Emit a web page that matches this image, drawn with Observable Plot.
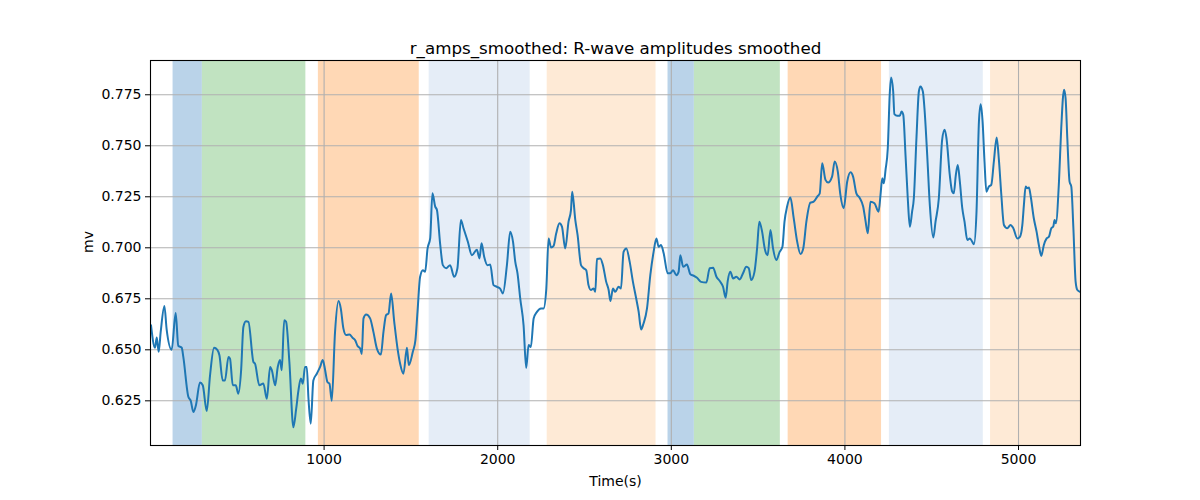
<!DOCTYPE html>
<html>
<head>
<meta charset="utf-8">
<script src="https://cdn.jsdelivr.net/npm/d3@7"></script>
<script src="https://cdn.jsdelivr.net/npm/@observablehq/plot@0.6"></script>
<style>
  html, body { margin: 0; padding: 0; background: white; }
</style>
</head>
<body>
<div id="chart"></div>
<script>
const titleText = "r_amps_smoothed: R-wave amplitudes smoothed";
const xLabel = "Time(s)";
const yLabel = "mv";
const xTicks = [1000, 2000, 3000, 4000, 5000];
const yTicks = [0.625, 0.650, 0.675, 0.700, 0.725, 0.750, 0.775];

const bandStart = [130, 299, 967, 1605, 2285, 2981, 3133, 3673, 4256, 4839];
const bandEnd   = [299, 895, 1548, 2187, 2912, 3133, 3628, 4211, 4797, 5357];
const bandColor = ["#bad3e9", "#c1e3c1", "#ffd8b5", "#e5edf7", "#feead6",
                   "#bad3e9", "#c1e3c1", "#ffd8b5", "#e5edf7", "#feead6"];

const times = [3,26,36,47,59,80,93,122,145,160,180,189,218,232,247,262,285,301,324,343,366,385,397,416,429,449,458,474,491,506,522,535,550,564,593,602,627,650,670,689,699,718,733,746,756,770,781,800,823,839,852,866,877,890,900,910,923,938,958,
977,992,1006,1019,1031,1044,1063,1083,1096,1111,1127,1146,1165,1179,1192,1208,1217,1227,1242,1265,1284,1304,1327,1342,1357,1371,1386,1404,1423,1438,1457,1477,1488,1511,1526,1538,1553,1569,1582,1596,1611,1624,1640,1650,1669,1684,1703,1726,1749,1768,1788,1803,1828,1851,1880,1895,1907,1922,1941,1957,1976,1995,2014,2030,
2053,2072,2088,2101,2114,2130,2149,2164,2178,2191,2207,2226,2249,2264,2280,2293,2307,2322,2337,2356,2370,2389,2408,2422,2429,2447,2460,2480,2495,2510,2523,2537,2552,2562,2572,2591,2606,2625,2639,2649,2664,2677,2696,2710,2725,2741,2760,2779,2798,2812,2826,2840,2860,2879,2898,2914,2927,2941,2956,2979,2994,3010,3029,3042,
3052,3068,3090,3110,3129,3148,3171,3202,3221,3241,3260,3279,3298,3313,3325,3340,3356,3375,3394,3413,3432,3446,3460,3479,3494,3507,3523,3538,3555,3571,3586,3605,3624,3640,3652,3667,3686,3705,3725,3744,3760,3778,3801,3820,3840,3855,3869,3888,3903,3926,3941,3959,3974,3993,4013,4032,4047,4066,4086,4105,4118,4132,
4147,4170,4194,4205,4215,4224,4234,4247,4258,4266,4278,4285,4301,4316,4326,4336,4349,4362,4374,4387,4397,4412,4426,4435,4449,4458,4474,4489,4509,4522,4541,4560,4574,4585,4604,4618,4627,4639,4650,4662,4676,4689,4705,4720,4733,4743,4758,4772,4782,4793,4804,4815,4829,4843,4858,4874,4887,4901,4916,4935,4954,4970,4993,5008,5022,5031,5041,5050,5060,5069,5088,5104,5117,5131,5146,5162,5175,5189,5200,5208,5215,5233,5246,5262,5271,5281,5294,5304,5316,5329,5339,5354];

const amps = [.662,.651,.656,.649,.659,.6715,.660,.650,.668,.652,.651,.6465,.627,.625,.6195,.623,.634,.6326,.620,.6375,.651,.650,.6473,.635,.635,.6465,.6457,.6326,.6326,.6285,.640,.6612,.664,.6637,.644,.6432,.6326,.6335,.626,.6416,.640,.6326,.6416,.645,.640,.6645,.6637,.644,.612,.621,.630,.636,.6334,.6416,.6416,.626,.6138,.635,.6383,
.6416,.645,.640,.6342,.6334,.625,.6588,.6739,.6703,.6605,.6572,.6575,.6558,.6547,.652,.6506,.648,.6654,.6673,.6654,.6588,.6506,.6477,.6588,.667,.6678,.6776,.6637,.6506,.6432,.6383,.651,.6425,.649,.6547,.6686,.6858,.689,.6882,.6997,.7046,.7267,.7202,.7185,.7014,.6915,.690,.6915,.6858,.690,.7136,.7096,.703,.6964,.699,.6948,.7022,.6956,.6915,.6918,.6817,.6809,.680,.6776,
.6915,.7079,.703,.6932,.6875,.675,.662,.6411,.6523,.6514,.6654,.6686,.6703,.6703,.680,.7046,.7002,.701,.7071,.712,.7104,.6997,.7128,.7185,.7275,.7136,.7063,.6915,.690,.689,.6817,.6793,.680,.6784,.6945,.6948,.6915,.6833,.6793,.6739,.680,.6784,.6809,.680,.698,.6997,.6932,.6833,.675,.6686,.660,.6629,.6703,.6866,.698,.7046,.7005,.7014,.6973,.6875,.6875,.689,.6866,.6882,
.6964,.6907,.6918,.687,.6863,.6853,.6833,.683,.690,.6902,.6858,.6837,.6809,.6755,.6838,.6882,.685,.6858,.6845,.6875,.6907,.690,.6842,.6882,.6997,.7128,.7079,.6997,.6964,.7087,.6997,.694,.698,.7005,.7128,.7202,.7246,.7145,.703,.697,.6997,.7128,.7221,.7226,.725,.7267,.7415,.7333,.732,.7349,.7423,.7373,.7259,.7194,.7324,.737,.7349,.7267,.7243,.7202,.7136,.7071,
.7226,.7218,.7177,.7259,.7341,.7316,.7382,.7488,.775,.7835,.7766,.7655,.7647,.7647,.7668,.7652,.7455,.7243,.7103,.7177,.7243,.7537,.7766,.7791,.7766,.7685,.7455,.721,.705,.7128,.7243,.7529,.7578,.7537,.7357,.7275,.7267,.7357,.7406,.7324,.7194,.7128,.7038,.7046,.703,.7017,.7177,.7619,.7704,.7619,.7423,.7275,.730,.7308,.7423,.754,.7431,.7259,.7112,.7096,.7112,.7096,.7046,.7054,.7112,.721,.730,.7292,.7295,.7259,.7145,.7079,.7014,.696,.7014,.7046,.7054,.7096,.7104,.7136,.712,.7324,.7586,.7775,.7734,.7537,.7324,.730,.7096,.6833,.6793,.6784];

const series = times.map((t, i) => ({t, v: amps[i]}));
const bands = bandStart.map((s, i) => ({s, e: bandEnd[i], c: bandColor[i]}));

const chart = Plot.plot({
  width: 1200,
  height: 500,
  marginLeft: 150,
  marginRight: 120,
  marginTop: 60,
  marginBottom: 55,
  style: {fontFamily: "DejaVu Sans", fontSize: "14px", background: "white", color: "black"},
  x: {domain: [0, 5357]},
  y: {domain: [0.6031, 0.7918]},
  marks: [
    Plot.rect(bands, {x1: "s", x2: "e", fill: "c"}),
    Plot.gridX(xTicks, {stroke: "#b0b0b0", strokeOpacity: 1, strokeWidth: 1.1}),
    Plot.gridY(yTicks, {stroke: "#b0b0b0", strokeOpacity: 1, strokeWidth: 1.1}),
    Plot.line(series, {x: "t", y: "v", stroke: "#1f77b4", strokeWidth: 2, curve: "monotone-x"}),
    Plot.frame({stroke: "black", strokeWidth: 1.1}),
    Plot.axisX(xTicks, {tickSize: 5, tickPadding: 4, label: null, fontSize: 14, tickFormat: d => String(d)}),
    Plot.axisY(yTicks, {tickSize: 5, tickPadding: 4, label: null, fontSize: 14, tickFormat: d3.format(".3f")}),
    Plot.text([titleText], {frameAnchor: "top", lineAnchor: "bottom", dy: -7, fontSize: 16.7}),
    Plot.text([xLabel], {frameAnchor: "bottom", lineAnchor: "middle", dy: 36, fontSize: 14}),
    Plot.text([yLabel], {frameAnchor: "left", rotate: -90, dx: -62, fontSize: 14})
  ]
});
document.getElementById("chart").appendChild(chart);
</script>
</body>
</html>
